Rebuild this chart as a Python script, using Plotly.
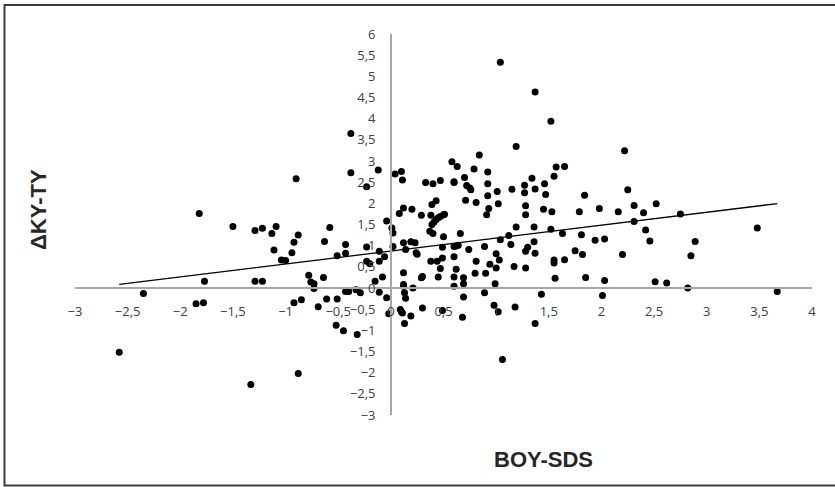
import numpy as np
import plotly.graph_objects as go

# BOY-SDS (x) and ΔKY-TY (y) for each subject
boy_sds = [
    -2.58, -2.35, -1.85, -1.78, -1.82, -1.77, -1.50, -1.33, -1.29, -1.22,
    -1.29, -1.22, -1.13, -1.09, -1.11, -1.04, -1.00, -0.94, -0.92, -0.88,
    -0.90, -0.88, -0.92, -0.85, -0.78, -0.76, -0.73, -0.73, -0.64, -0.69,
    -0.63, -0.58, -0.61, -0.51, -0.51, -0.52, -0.45, -0.43, -0.43, -0.43,
    -0.40, -0.38, -0.38, -0.33, -0.32, -0.29, -0.23, -0.23, -0.23, -0.20,
    -0.15, -0.12, -0.11, -0.11, -0.08, -0.06, -0.11, -0.04, -0.02, -0.04,
    0.01, 0.02, 0.02, 0.04, 0.10, 0.11, 0.08, 0.12, 0.20, 0.12,
    0.19, 0.23, 0.14, 0.24, 0.25, 0.12, 0.12, 0.12, 0.13, 0.14,
    0.21, 0.09, 0.10, 0.11, 0.19, 0.13, 0.29, 0.30, 0.30, 0.29,
    0.38, 0.33, 0.40, 0.47, 0.39, 0.43, 0.39, 0.41, 0.43, 0.45,
    0.47, 0.50, 0.51, 0.37, 0.40, 0.38, 0.44, 0.47, 0.45, 0.50,
    0.49, 0.49, 0.49, 0.60, 0.62, 0.64, 0.66, 0.60, 0.62, 0.60,
    0.60, 0.69, 0.69, 0.69, 0.68, 0.74, 0.81, 0.80, 0.58, 0.63,
    0.60, 0.60, 0.70, 0.72, 0.75, 0.76, 0.71, 0.79, 0.84, 0.81,
    0.92, 0.92, 0.92, 0.93, 0.91, 1.01, 1.02, 1.04, 1.19, 1.15,
    1.19, 1.12, 1.04, 1.14, 0.89, 0.90, 0.89, 0.94, 1.00, 1.00,
    0.99, 1.03, 1.17, 1.28, 1.27, 1.27, 1.28, 1.28, 1.34, 1.37,
    1.37, 1.36, 1.36, 1.30, 1.28, 1.37, 1.46, 1.47, 1.45, 1.53,
    1.52, 1.52, 1.55, 1.57, 1.65, 1.63, 1.55, 1.55, 1.65, 1.56,
    1.43, 1.37, 0.98, 1.02, 1.18, 1.06, 1.79, 1.84, 1.81, 1.75,
    1.82, 1.85, 1.94, 2.03, 1.98, 2.03, 2.01, 2.16, 2.22, 2.25,
    2.31, 2.31, 2.40, 2.52, 2.42, 2.46, 2.20, 2.51, 2.62, 2.75,
    2.85, 2.89, 3.48, 2.82, 3.67,
]
delta_ky_ty = [
    -1.52, -0.13, -0.37, -0.35, 1.76, 0.16, 1.45, -2.28, 1.36, 1.41,
    0.16, 0.16, 1.29, 1.45, 0.90, 0.66, 0.65, 0.83, 1.08, 1.25,
    2.58, -2.02, -0.35, -0.28, 0.30, 0.14, 0.10, -0.01, 0.25, -0.44,
    1.10, 1.43, -0.26, -0.26, 0.76, -0.88, -1.01, 1.03, 0.82, -0.08,
    -0.08, 3.65, 2.72, -0.04, -1.10, -0.11, 2.39, 0.97, 0.63, 0.57,
    0.16, 2.79, 0.87, 0.63, 0.26, 0.74, -0.10, -0.23, -0.61, 1.58,
    1.42, 1.30, 0.98, 2.69, 2.75, 2.55, 1.76, 1.89, 1.86, 1.07,
    1.09, 1.07, 0.91, 0.83, 0.80, 0.36, 0.08, 0.04, -0.11, -0.24,
    0.00, -0.51, -0.56, -0.59, -0.66, -0.84, 0.24, 0.27, -0.47, 1.72,
    1.72, 2.49, 2.46, 2.54, 1.97, 2.06, 1.50, 1.56, 1.62, 1.66,
    1.69, 1.73, 1.74, 1.34, 1.29, 0.63, 0.63, 0.46, 0.26, 1.21,
    0.96, 0.71, -0.53, 0.98, 0.99, 1.01, 1.29, 0.74, 0.44, 0.26,
    0.04, 0.24, 0.10, -0.21, -0.69, 0.91, 0.63, 0.35, 2.98, 2.87,
    2.49, 2.51, 2.61, 2.42, 2.36, 2.32, 2.07, 2.81, 3.14, 2.02,
    2.74, 2.46, 2.18, 1.88, 1.73, 2.28, 1.99, 5.33, 3.34, 2.33,
    1.44, 1.24, 1.14, 1.03, 0.98, 0.35, -0.11, 0.56, 0.47, 0.81,
    0.10, 0.66, 0.51, 0.47, 2.43, 2.25, 1.94, 1.73, 2.59, 2.34,
    4.63, 1.44, 1.09, 0.96, 0.87, 0.82, 2.46, 2.21, 1.86, 1.80,
    1.39, 3.94, 2.64, 2.86, 2.87, 1.29, 0.66, 0.59, 0.67, 0.23,
    -0.15, -0.84, -0.41, -0.56, -0.45, -1.69, 1.80, 2.19, 1.26, 0.88,
    0.79, 0.25, 1.13, 1.16, 1.88, 0.18, -0.18, 1.80, 3.24, 2.32,
    1.95, 1.57, 1.78, 1.99, 1.37, 1.11, 0.79, 0.15, 0.12, 1.75,
    0.76, 1.10, 1.42, 0.00, -0.08,
]

x_title = "BOY-SDS"
y_title = "ΔKY-TY"

x = np.array(boy_sds)
y = np.array(delta_ky_ty)

# linear least-squares trend line across the observed x span
slope, intercept = np.polyfit(x, y, 1)
trend_x = np.array([x.min(), x.max()])
trend_y = slope * trend_x + intercept

X_MIN, X_MAX = -3, 4
Y_MIN, Y_MAX = -3, 6

fig = go.Figure()
fig.add_trace(go.Scatter(
    x=x, y=y, mode="markers",
    marker=dict(color="black", size=7, line=dict(width=0)),
    showlegend=False,
))
fig.add_trace(go.Scatter(
    x=trend_x, y=trend_y, mode="lines",
    line=dict(color="black", width=1.3),
    showlegend=False,
))

tick_font = dict(family="Open Sans, sans-serif", size=13, color="#404040")
axis_gray = "#a6a6a6"

W, H = 835, 487
ML, MR, MT, MB = 75, 23, 34, 72
pw, ph = W - ML - MR, H - MT - MB

fig.update_layout(
    width=W, height=H,
    margin=dict(l=ML, r=MR, t=MT, b=MB, pad=0),
    paper_bgcolor="white", plot_bgcolor="white",
    separators=", ",
    showlegend=False,
    xaxis=dict(
        range=[X_MIN, X_MAX], dtick=0.5, tick0=0,
        showgrid=False, zeroline=False,
        showline=True, linecolor=axis_gray, linewidth=1.5,
        anchor="free", position=(0 - Y_MIN) / (Y_MAX - Y_MIN),
        ticks="", ticklabelstandoff=12, tickfont=tick_font,
    ),
    yaxis=dict(
        range=[Y_MIN, Y_MAX], dtick=0.5, tick0=0,
        showgrid=False, zeroline=False,
        showline=True, linecolor=axis_gray, linewidth=1.5,
        anchor="free", position=(0 - X_MIN) / (X_MAX - X_MIN),
        ticks="", ticklabelstandoff=12, tickfont=tick_font,
    ),
)

# axis titles
fig.add_annotation(
    text=f"<b>{x_title}</b>", xref="paper", yref="paper",
    x=(543 - ML) / pw, y=(H - MB - 459) / ph,
    showarrow=False, xanchor="center", yanchor="middle",
    font=dict(family="Liberation Sans Narrow, Arial Narrow, sans-serif", size=22, color="#262626"),
)
fig.add_annotation(
    text=f"<b>{y_title}</b>", xref="paper", yref="paper",
    x=(38 - ML) / pw, y=(H - MB - 210) / ph, textangle=-90,
    showarrow=False, xanchor="center", yanchor="middle",
    font=dict(family="Liberation Sans Narrow, Arial Narrow, sans-serif", size=22, color="#262626"),
)

# chart frame
fig.add_shape(
    type="rect", xref="paper", yref="paper",
    x0=(4.5 - ML) / pw, x1=(840 - ML) / pw,
    y0=(H - MB - 485.5) / ph, y1=(H - MB - 5) / ph,
    line=dict(color="#3a3a3a", width=2), fillcolor="rgba(0,0,0,0)", layer="below",
)

fig.write_html("out.html")
